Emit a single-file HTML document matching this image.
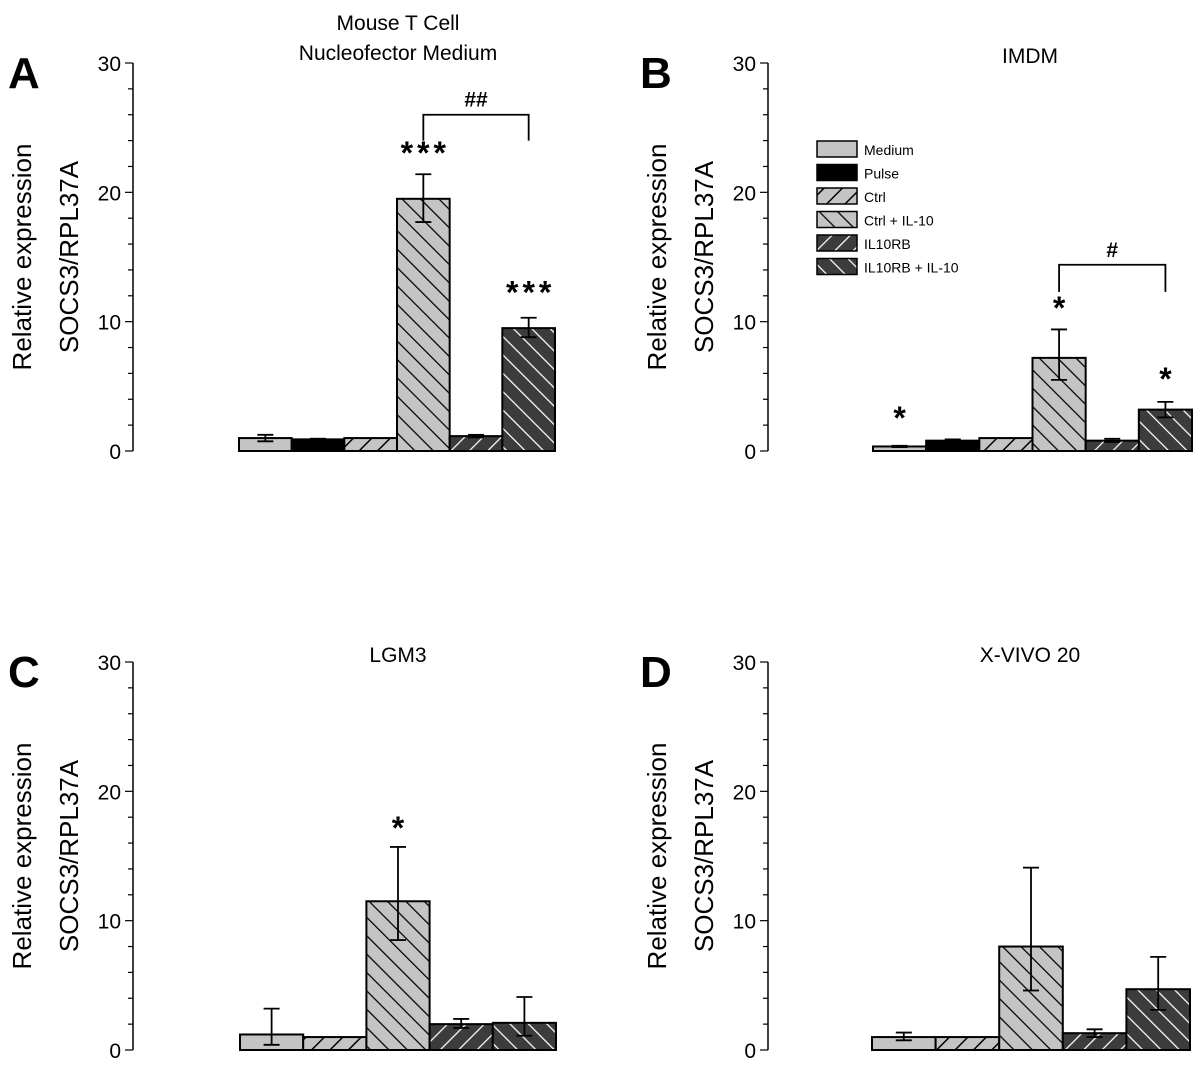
<!DOCTYPE html>
<html><head><meta charset="utf-8"><style>
html,body{margin:0;padding:0;background:#fff;}
svg{display:block;font-family:"Liberation Sans","DejaVu Sans",sans-serif;}
</style></head><body>
<svg id="fig" width="1200" height="1070" viewBox="0 0 1200 1070" xmlns="http://www.w3.org/2000/svg">
<defs>
<pattern id="pCtrl" patternUnits="userSpaceOnUse" width="13" height="13" patternTransform="rotate(45)"><rect width="13" height="13" fill="#c4c4c4"/><line x1="0" y1="0" x2="0" y2="13" stroke="#000" stroke-width="3"/></pattern>
<pattern id="pCtrlIL" patternUnits="userSpaceOnUse" width="13" height="13" patternTransform="rotate(-45)"><rect width="13" height="13" fill="#c4c4c4"/><line x1="0" y1="0" x2="0" y2="13" stroke="#000" stroke-width="2.5"/></pattern>
<pattern id="pRB" patternUnits="userSpaceOnUse" width="13" height="13" patternTransform="rotate(45)"><rect width="13" height="13" fill="#3c3c3c"/><line x1="0" y1="0" x2="0" y2="13" stroke="#fff" stroke-width="2.5"/></pattern>
<pattern id="pRBIL" patternUnits="userSpaceOnUse" width="13" height="13" patternTransform="rotate(-45)"><rect width="13" height="13" fill="#3c3c3c"/><line x1="0" y1="0" x2="0" y2="13" stroke="#fff" stroke-width="2.5"/></pattern>
</defs>
</svg>
<script>
const seriesNames = ["Medium","Pulse","Ctrl","Ctrl + IL-10","IL10RB","IL10RB + IL-10"];
const yTicks = [0,10,20,30];
// Panel A
const aSeries = [0,1,2,3,4,5];
const aValues = [1.0,0.9,1.0,19.5,1.15,9.5];
const aErrLow = [0.75,0.85,null,17.7,1.05,8.8];
const aErrHigh = [1.25,0.95,null,21.4,1.25,10.3];
// Panel B
const bSeries = [0,1,2,3,4,5];
const bValues = [0.35,0.8,1.0,7.2,0.8,3.2];
const bErrLow = [0.3,0.7,null,5.5,0.7,2.6];
const bErrHigh = [0.4,0.9,null,9.4,0.95,3.8];
// Panel C
const cSeries = [0,2,3,4,5];
const cValues = [1.2,1.0,11.5,2.0,2.1];
const cErrLow = [0.4,null,8.5,1.7,1.1];
const cErrHigh = [3.2,null,15.7,2.4,4.1];
// Panel D
const dSeries = [0,2,3,4,5];
const dValues = [1.0,1.0,8.0,1.3,4.7];
const dErrLow = [0.75,null,4.6,1.0,3.1];
const dErrHigh = [1.35,null,14.1,1.6,7.2];

const fills = ["#c4c4c4","#000","url(#pCtrl)","url(#pCtrlIL)","url(#pRB)","url(#pRBIL)"];
const NS="http://www.w3.org/2000/svg";
const svg=document.getElementById('fig');
function mk(tag,attrs,parent){const e=document.createElementNS(NS,tag);for(const k in attrs)e.setAttribute(k,attrs[k]);(parent||svg).appendChild(e);return e;}
function txt(s,attrs,parent){const e=mk('text',attrs,parent);e.textContent=s;return e;}

function panel(cfg){
  const g=mk('g',{});
  
  
  const ax=cfg.ax, y0=cfg.y0, y30=cfg.y0-388;
  const yS=v=>y0-(v/30)*388;
  const L=txt(cfg.letter,{x:cfg.lx,y:cfg.y0-363,'font-size':44,'font-weight':'bold'},g);
  
  
  const yl=mk('g',{transform:`translate(${ax-102},${(y0+y30)/2}) rotate(-90)`},g);
  
  
  txt('Relative expression',{x:0,y:0,'text-anchor':'middle','font-size':26},yl);
  txt('SOCS3/RPL37A',{x:0,y:47,'text-anchor':'middle','font-size':26},yl);
  const axis=mk('line',{x1:ax,y1:y30,x2:ax,y2:y0,stroke:'#000','stroke-width':1.5},g);
  
  
  for(let v=0;v<=30;v+=2){const major=v%10===0;mk('line',{x1:ax-(major?8:5),y1:yS(v),x2:ax,y2:yS(v),stroke:'#000','stroke-width':1.2},g);}
  yTicks.forEach(v=>{const t=txt(String(v),{x:ax-12,y:yS(v)+8,'text-anchor':'end','font-size':21},g);
    
    });
  cfg.title.forEach((s,i)=>{const t=txt(s,{x:cfg.tx,y:cfg.ty+i*30,'text-anchor':'middle','font-size':21},g);
    
    });
  const n=cfg.series.length, bw=(cfg.x1-cfg.x0)/n;
  const centers=[];
  cfg.series.forEach((s,i)=>{
    const x=cfg.x0+i*bw, v=cfg.values[i];
    centers.push(x+bw/2);
    const r=mk('rect',{x:x,y:yS(v),width:bw,height:y0-yS(v),fill:fills[s],stroke:'#000','stroke-width':2},g);
    
    
    const lo=cfg.lo[i], hi=cfg.hi[i];
    if(lo!=null){
      const cx=x+bw/2;
      const eg=mk('g',{stroke:'#000','stroke-width':1.8},g);
      
      
      mk('line',{x1:cx,y1:yS(lo),x2:cx,y2:yS(hi)},eg);
      mk('line',{x1:cx-8,y1:yS(lo),x2:cx+8,y2:yS(lo)},eg);
      mk('line',{x1:cx-8,y1:yS(hi),x2:cx+8,y2:yS(hi)},eg);
    }
  });
  (cfg.stars||[]).forEach(st=>{const t=txt(st[1],{x:centers[st[0]]+(st[1].length>1?2:0),y:yS(st[2]),'text-anchor':'middle','font-size':32,'font-weight':'bold','letter-spacing':st[1].length>1?4:0},g);
    
    });
  if(cfg.bracket){const b=cfg.bracket, xa=centers[b[0]], xb=centers[b[1]];
    const bg=mk('g',{},g);
    
    
    mk('path',{d:`M${xa},${yS(b[3])} V${yS(b[2])} H${xb} V${yS(b[3])}`,fill:'none',stroke:'#000','stroke-width':1.8},bg);
    txt(b[4],{x:(xa+xb)/2,y:yS(b[2])-8,'text-anchor':'middle','font-size':21,'font-weight':'bold'},bg);}
}
panel({letter:'A',lx:8,ax:133,y0:451,x0:239,x1:555,tx:398,ty:30,title:['Mouse T Cell','Nucleofector Medium'],
  series:aSeries,values:aValues,lo:aErrLow,hi:aErrHigh,
  stars:[[3,'***',22.2],[5,'***',11.4]],bracket:[3,5,26.0,24.0,'##']});
panel({letter:'B',lx:640,ax:768,y0:451,x0:873,x1:1192,tx:1030,ty:63,title:['IMDM'],
  series:bSeries,values:bValues,lo:bErrLow,hi:bErrHigh,
  stars:[[0,'*',1.7],[3,'*',10.2],[5,'*',4.7]],bracket:[3,5,14.4,12.3,'#']});
panel({letter:'C',lx:8,ax:133,y0:1050,x0:240,x1:556,tx:398,ty:662,title:['LGM3'],
  series:cSeries,values:cValues,lo:cErrLow,hi:cErrHigh,
  stars:[[2,'*',16.3]]});
panel({letter:'D',lx:640,ax:768,y0:1050,x0:872,x1:1190,tx:1030,ty:662,title:['X-VIVO 20'],
  series:dSeries,values:dValues,lo:dErrLow,hi:dErrHigh});
const lg=mk('g',{});


seriesNames.forEach((s,i)=>{const y=141+i*23.5;
  const e=mk('g',{},lg);
  
  
  mk('rect',{x:817,y:y,width:40,height:16,fill:fills[i],stroke:'#000','stroke-width':1.5},e);
  txt(s,{x:864,y:y+14,'font-size':14},e);});
</script>
</body></html>
